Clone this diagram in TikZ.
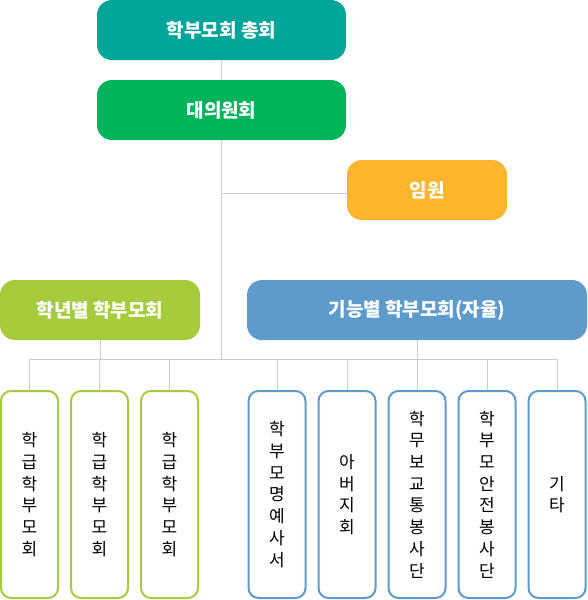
\documentclass[tikz,border=0pt]{standalone}
\usepackage{fontspec}
\setmainfont{Noto Sans CJK KR}
\definecolor{cteal}{RGB}{0,165,154}
\definecolor{cgreen}{RGB}{0,180,92}
\definecolor{corange}{RGB}{253,181,45}
\definecolor{clime}{RGB}{166,204,61}
\definecolor{cblue}{RGB}{94,155,203}
\definecolor{linegray}{RGB}{204,204,204}
\begin{document}
\begin{tikzpicture}[x=1pt,y=-1pt,
	head/.style={fill=#1, rounded corners=15pt, minimum height=60pt, inner sep=0pt, text=white, font=\fontsize{19}{22}\selectfont\bfseries},
	unit/.style={draw=#1, fill=white, line width=2pt, rounded corners=10pt, minimum width=57pt, minimum height=207pt, inner sep=0pt, align=center, font=\fontsize{17}{21.7}\selectfont},
	link/.style={draw=linegray, line width=1pt}]
	\useasboundingbox (0,0) rectangle (587,600);
	\coordinate (fork) at (0,193);
	\coordinate (bar) at (0,359);
	\node [head=cteal, minimum width=249pt] (general) at (221.5,30) {학부모회 총회};
	\node [head=cgreen, minimum width=249pt] (council) at (221.5,110) {대의원회};
	\node [head=corange, minimum width=160pt] (officer) at (427,190) {임원};
	\node [head=clime, minimum width=200pt] (grade) at (100,310) {학년별 학부모회};
	\node [head=cblue, minimum width=340pt] (func) at (417,310) {기능별 학부모회(자율)};
	\foreach \x/\n/\t in {29.5/g1/{학\\급\\학\\부\\모\\회}, 99.5/g2/{학\\급\\학\\부\\모\\회}, 169.5/g3/{학\\급\\학\\부\\모\\회}}
		\node [unit=clime] (\n) at (\x,494.5) {\t};
	\foreach \x/\n/\t in {277/f1/{학\\부\\모\\명\\예\\사\\서}, 347/f2/{아\\버\\지\\회}, 417/f3/{학\\무\\보\\교\\통\\봉\\사\\단}, 487/f4/{학\\부\\모\\안\\전\\봉\\사\\단}, 557/f5/{기\\타}}
		\node [unit=cblue] (\n) at (\x,494.5) {\t};
	\draw [link] (general) -- (council);
	\draw [link] (council.south) -- (council.south |- bar);
	\draw [link] (council.south |- fork) -- (officer.west |- fork);
	\draw [link] (grade.south) -- (grade.south |- bar);
	\draw [link] (func.south) -- (func.south |- bar);
	\draw [link] (g1.north |- bar) -- (f5.north |- bar);
	\foreach \n in {g1,g2,g3,f1,f2,f3,f4,f5}
		\draw [link] (\n.north |- bar) -- (\n.north);
\end{tikzpicture}
\end{document}
